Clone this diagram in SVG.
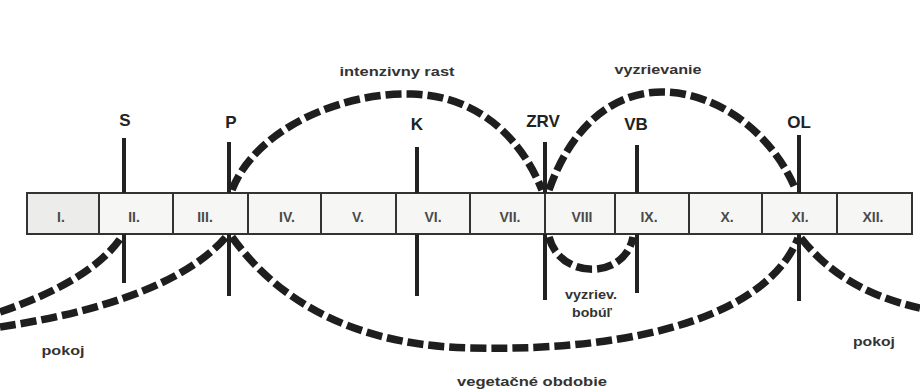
<svg xmlns="http://www.w3.org/2000/svg" width="920" height="392" viewBox="0 0 920 392">
<defs>
<style>
.bg{fill:#ffffff}
.strip{fill:#f6f6f4;stroke:#333;stroke-width:2}
.div{stroke:#333;stroke-width:2}
.mk{stroke:#222;stroke-width:4;fill:none}
.dash{stroke:#1e1e1e;stroke-width:7.5;fill:none;stroke-dasharray:16 5}
.mon{font-family:"Liberation Sans",Arial,sans-serif;font-size:14px;font-weight:bold;fill:#4a4a4a;text-anchor:middle}
.lab{font-family:"Liberation Sans",Arial,sans-serif;font-size:17px;font-weight:bold;fill:#222;text-anchor:middle}
.sm{font-family:"Liberation Sans",Arial,sans-serif;font-size:12px;font-weight:bold;fill:#333;text-anchor:middle}
</style>
</defs>
<rect class="bg" x="0" y="0" width="920" height="392"/>
<g id="strip">
<rect class="strip" x="27" y="193" width="885" height="41"/>
<rect x="28" y="194" width="71" height="39" fill="#ececea"/>
<g class="div">
<line x1="99" y1="193" x2="99" y2="234"/>
<line x1="173" y1="193" x2="173" y2="234"/>
<line x1="248" y1="193" x2="248" y2="234"/>
<line x1="321" y1="193" x2="321" y2="234"/>
<line x1="396" y1="193" x2="396" y2="234"/>
<line x1="470" y1="193" x2="470" y2="234"/>
<line x1="545" y1="193" x2="545" y2="234"/>
<line x1="615" y1="193" x2="615" y2="234"/>
<line x1="689" y1="193" x2="689" y2="234"/>
<line x1="762" y1="193" x2="762" y2="234"/>
<line x1="837" y1="193" x2="837" y2="234"/>
</g>
<text class="mon" x="61" y="222">I.</text>
<text class="mon" x="134" y="222">II.</text>
<text class="mon" x="205" y="222">III.</text>
<text class="mon" x="287" y="222">IV.</text>
<text class="mon" x="358" y="222">V.</text>
<text class="mon" x="433" y="222">VI.</text>
<text class="mon" x="510" y="222">VII.</text>
<text class="mon" x="582" y="222">VIII</text>
<text class="mon" x="649" y="222">IX.</text>
<text class="mon" x="727" y="222">X.</text>
<text class="mon" x="800" y="222">XI.</text>
<text class="mon" x="873" y="222">XII.</text>
</g>
<g id="S">
<line class="mk" x1="124" y1="138" x2="124" y2="193"/>
<line class="mk" x1="124" y1="234" x2="124" y2="283"/>
<text class="lab" x="125" y="126">S</text>
</g>
<g id="P">
<line class="mk" x1="229" y1="142" x2="229" y2="193"/>
<line class="mk" x1="229" y1="234" x2="229" y2="296"/>
<text class="lab" x="231" y="128">P</text>
</g>
<g id="K">
<line class="mk" x1="417" y1="147" x2="417" y2="193"/>
<line class="mk" x1="417" y1="234" x2="417" y2="296"/>
<text class="lab" x="417" y="130">K</text>
</g>
<g id="ZRV">
<line class="mk" x1="545" y1="142" x2="545" y2="193"/>
<line class="mk" x1="545" y1="234" x2="545" y2="300"/>
<text class="lab" x="543" y="127">ZRV</text>
</g>
<g id="VB">
<line class="mk" x1="637" y1="145" x2="637" y2="193"/>
<line class="mk" x1="637" y1="234" x2="637" y2="293"/>
<text class="lab" x="636" y="130">VB</text>
</g>
<g id="OL">
<line class="mk" x1="799" y1="135" x2="799" y2="193"/>
<line class="mk" x1="799" y1="234" x2="799" y2="301"/>
<text class="lab" x="799" y="128">OL</text>
</g>
<g id="connectors">
<path class="dash" d="M232,190 C255,130 340,92 412,94 C480,96 522,140 542,190"/>
<path class="dash" d="M549,190 C570,130 610,92 662,92 C715,92 770,130 795,188"/>
<path class="dash" d="M549,237 C560,280 625,280 633,237"/>
<path class="dash" d="M0,312 C50,295 100,270 122,236"/>
<path class="dash" d="M0,327 C80,315 180,290 226,237"/>
<path class="dash" d="M232,237 C270,290 340,345 470,348 C650,352 770,310 798,238"/>
<path class="dash" d="M801,238 C830,275 870,297 920,308"/>
</g>
<g id="labels">
<text class="sm" x="397" y="76" textLength="115" lengthAdjust="spacingAndGlyphs">intenzivny rast</text>
<text class="sm" x="658" y="74" textLength="87" lengthAdjust="spacingAndGlyphs">vyzrievanie</text>
<text class="sm" x="591" y="299" textLength="52" lengthAdjust="spacingAndGlyphs">vyzriev.</text>
<text class="sm" x="592" y="317" textLength="40" lengthAdjust="spacingAndGlyphs">bobúľ</text>
<text class="sm" x="63" y="355" textLength="43" lengthAdjust="spacingAndGlyphs">pokoj</text>
<text class="sm" x="874" y="346" textLength="42" lengthAdjust="spacingAndGlyphs">pokoj</text>
<text class="sm" x="532" y="386" textLength="150" lengthAdjust="spacingAndGlyphs">vegetačné obdobie</text>
</g>
</svg>
